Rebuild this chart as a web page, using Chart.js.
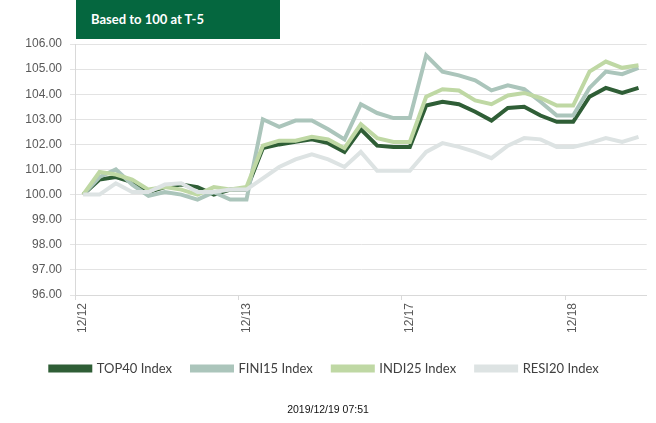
<!DOCTYPE html>
<html>
<head>
<meta charset="utf-8">
<script src="https://cdn.jsdelivr.net/npm/chart.js@4.4.1/dist/chart.umd.min.js"></script>
<style>
body{margin:0;background:#fff;}
#wrap{position:relative;width:656px;height:423px;}
#title{position:absolute;left:76px;top:0;width:204px;height:39px;background:#05673f;color:#fff;font:bold 13px Lato,sans-serif;line-height:39px;padding-left:15px;box-sizing:border-box;}
#stamp{position:absolute;left:0;width:656px;top:403px;text-align:center;font:10.5px "Liberation Sans",Arial,sans-serif;color:#111;}
</style>
</head>
<body>
<div id="wrap">
<canvas id="indexChart" width="656" height="423"></canvas>
<div id="title">Based to 100 at T-5</div>
<div id="stamp">2019/12/19 07:51</div>
</div>
<script>
const labels=[
"12/12","12/12","12/12","12/12","12/12","12/12","12/12","12/12","12/12","12/12",
"12/13","12/13","12/13","12/13","12/13","12/13","12/13","12/13","12/13","12/13",
"12/17","12/17","12/17","12/17","12/17","12/17","12/17","12/17","12/17","12/17",
"12/18","12/18","12/18","12/18","12/18"
];

const top40=[100.0,100.6,100.7,100.5,100.1,100.3,100.4,100.3,100.0,100.2,100.2,
101.85,102.0,102.1,102.2,102.05,101.7,102.6,101.95,101.9,101.9,
103.55,103.7,103.6,103.3,102.95,103.45,103.5,103.15,102.9,102.9,
103.9,104.25,104.05,104.25];

const fini15=[100.0,100.7,101.0,100.4,99.95,100.1,100.0,99.8,100.1,99.8,99.8,
103.0,102.7,102.95,102.95,102.6,102.2,103.6,103.25,103.05,103.05,
105.55,104.9,104.75,104.55,104.15,104.35,104.2,103.7,103.15,103.15,
104.25,104.9,104.8,105.05];

const indi25=[100.0,100.9,100.8,100.6,100.2,100.3,100.2,100.0,100.3,100.2,100.3,
101.95,102.15,102.15,102.3,102.2,101.85,102.8,102.25,102.1,102.1,
103.9,104.2,104.15,103.75,103.6,103.95,104.05,103.85,103.55,103.55,
104.9,105.3,105.05,105.15];

const resi20=[100.0,100.0,100.45,100.1,100.1,100.4,100.45,100.1,100.1,100.2,100.2,
100.65,101.1,101.4,101.6,101.4,101.1,101.7,100.95,100.95,100.95,
101.7,102.05,101.9,101.7,101.45,101.95,102.25,102.2,101.9,101.9,
102.05,102.25,102.1,102.3];

const seriesNames=["TOP40 Index","FINI15 Index","INDI25 Index","RESI20 Index"];
const seriesColors=["#2f5e36","#abc5bb","#bfd8a4","#dde3e3"];

const yMin=96;
const yMax=106;

const axisFont={family:"'Liberation Sans Narrow','Liberation Sans',sans-serif",size:12};
const gridColor="#e3e3e3";

function line(i,data){
return{
label:seriesNames[i],
data,
borderColor:seriesColors[i],
backgroundColor:seriesColors[i],
borderWidth:4,
pointRadius:0,
tension:0,
fill:false,
order:4-i
};
}

new Chart(document.getElementById("indexChart"),{
type:"line",
data:{
labels,
datasets:[
line(0,top40),
line(1,fini15),
line(2,indi25),
line(3,resi20)
]
},
options:{
responsive:false,
animation:false,
layout:{padding:{top:44,right:7,bottom:38,left:0}},
scales:{
x:{
offset:true,
afterFit(scale){scale.height=47;},
grid:{
offset:true,
drawOnChartArea:false,
tickLength:5,
color:ctx=>ctx.index%10===0?"#d9d9d9":"rgba(0,0,0,0)"
},
border:{color:"#d9d9d9"},
ticks:{
autoSkip:false,
minRotation:90,
maxRotation:90,
padding:3,
color:"#595959",
font:axisFont,
callback(value,index){
return index%10===0?this.getLabelForValue(value):"";
}
}
},
y:{
min:yMin,
max:yMax,
afterFit(scale){scale.width=75;},
grid:{color:gridColor,tickLength:5},
border:{color:"#d9d9d9"},
ticks:{
stepSize:1,
padding:8,
color:"#595959",
font:axisFont,
callback:v=>Number(v).toFixed(2)
}
}
},
plugins:{
legend:{
position:"bottom",
labels:{
boxWidth:40,
boxHeight:4,
padding:20,
color:"#404040",
font:{family:"Lato,sans-serif",size:13},
sort:(a,b)=>a.datasetIndex-b.datasetIndex
}
},
tooltip:{enabled:false}
}
}
});
</script>
</body>
</html>
